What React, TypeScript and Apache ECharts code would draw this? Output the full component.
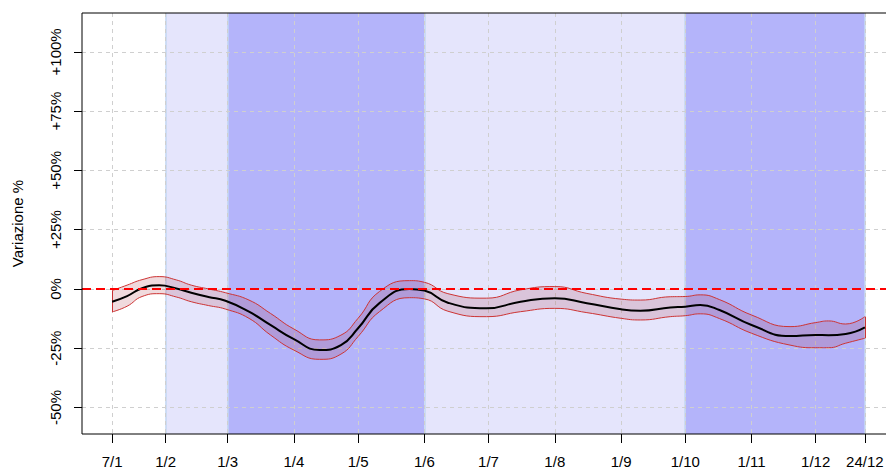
import { useEffect, useRef } from 'react';
import * as echarts from 'echarts';

// Daily-series summary for 2020: smoothed mean change (%) and its band
const dates = [
  '2020-01-07', '2020-01-14', '2020-01-21', '2020-01-29', '2020-02-06', '2020-02-13',
  '2020-02-21', '2020-02-29', '2020-03-11', '2020-03-21', '2020-04-01', '2020-04-13',
  '2020-04-23', '2020-05-01', '2020-05-11', '2020-05-25', '2020-06-01', '2020-06-12',
  '2020-06-30', '2020-07-16', '2020-08-01', '2020-08-16', '2020-09-01', '2020-09-10',
  '2020-09-24', '2020-10-01', '2020-10-08', '2020-10-17', '2020-11-01', '2020-11-19',
  '2020-12-01', '2020-12-07', '2020-12-15', '2020-12-24',
];
const meanPct = [
  -5.4, -3.0, 0.3, 1.5, 0.2, -1.6,
  -3.4, -5.0, -9.6, -15.2, -21.2, -25.8,
  -23.7, -16.6, -6.0, 0.0, -0.7, -5.8,
  -8.2, -5.4, -3.9, -6.0, -8.6, -9.2,
  -7.8, -7.5, -6.8, -8.9, -15.2, -19.9,
  -19.4, -19.5, -19.0, -16.2,
];
const lowerPct = [
  -9.7, -7.3, -3.2, -2.0, -3.4, -5.4,
  -7.0, -8.5, -12.4, -19.4, -25.8, -29.7,
  -27.5, -20.1, -9.6, -3.7, -4.2, -9.4,
  -11.7, -9.6, -8.2, -10.0, -12.4, -13.1,
  -11.7, -11.3, -10.5, -12.5, -18.7, -23.7,
  -24.8, -24.8, -22.9, -20.8,
];
const upperPct = [
  -0.7, 1.6, 3.9, 5.2, 3.8, 1.6,
  0.0, -1.6, -4.7, -10.3, -16.9, -21.5,
  -19.5, -12.4, -1.1, 3.5, 2.8, -2.0,
  -3.9, -0.4, 1.0, -1.9, -4.3, -4.7,
  -3.3, -3.2, -2.5, -4.5, -11.0, -15.9,
  -14.2, -13.5, -14.8, -11.7,
];

// Axis ticks
const tickDates = [
  '2020-01-07', '2020-02-01', '2020-03-01', '2020-04-01', '2020-05-01', '2020-06-01',
  '2020-07-01', '2020-08-01', '2020-09-01', '2020-10-01', '2020-11-01', '2020-12-01',
  '2020-12-24',
];
const tickLabels = ['7/1', '1/2', '1/3', '1/4', '1/5', '1/6', '1/7', '1/8', '1/9', '1/10', '1/11', '1/12', '24/12'];
const yTicks = [-50, -25, 0, 25, 50, 75, 100];

// Background periods
const periods = [
  { from: '2020-02-01', to: '2020-03-01', level: 'light' },
  { from: '2020-03-01', to: '2020-06-01', level: 'dark' },
  { from: '2020-06-01', to: '2020-10-01', level: 'light' },
  { from: '2020-10-01', to: '2020-12-24', level: 'dark' },
];
const periodEdges = ['2020-02-01', '2020-03-01', '2020-06-01', '2020-10-01', '2020-12-24'];

const Y_MIN = -61.2;
const Y_MAX = 116.4;

// Day of year (0 = 1 January 2020)
const dayOf = (s: string) => {
  const [y, m, d] = s.split('-').map(Number);
  return (Date.UTC(y, m - 1, d) - Date.UTC(2020, 0, 1)) / 86400000;
};

const FONT = "'Liberation Sans', Arial, sans-serif";
const BAND_EDGE = '#CC3434';
const SMOOTH = 0.5;

export default function App() {
  const ref = useRef<HTMLDivElement>(null);

  useEffect(() => {
    if (!ref.current) return;
    const chart = echarts.init(ref.current, undefined, { renderer: 'svg' });

    const days = dates.map(dayOf);
    const first = days[0];
    const last = days[days.length - 1];
    const pad = (last - first) * 0.04;
    const tickDays = tickDates.map(dayOf);
    const labelOf = new Map(tickDays.map((d, i) => [d, tickLabels[i]]));

    // value first, day second: the stack then accumulates the value column
    const lowerData = days.map((d, i) => [lowerPct[i], d]);
    const widthData = days.map((d, i) => [upperPct[i] - lowerPct[i], d]);
    const meanData = days.map((d, i) => [d, meanPct[i]]);
    const n = days.length - 1;

    chart.setOption({
      animation: false,
      backgroundColor: '#ffffff',
      textStyle: { fontFamily: FONT },
      grid: {
        left: 82,
        top: 13,
        right: -9,
        bottom: 36,
        show: true,
        borderColor: '#000',
        borderWidth: 1,
        backgroundColor: 'transparent',
        z: 6,
        outerBoundsMode: 'none',
      },
      xAxis: {
        type: 'value',
        min: first - pad,
        max: last + pad,
        z: 2,
        axisLine: { show: false, onZero: false },
        axisTick: {
          show: true,
          customValues: tickDays,
          length: 9,
          lineStyle: { color: '#000', width: 1 },
        },
        axisLabel: {
          customValues: tickDays,
          formatter: (v: number) => labelOf.get(v) ?? '',
          margin: 20,
          fontSize: 15,
          color: '#000',
          fontFamily: FONT,
        },
        splitLine: {
          show: true,
          lineStyle: { color: '#CFCFCF', width: 1, type: [4, 4] },
        },
      },
      yAxis: {
        type: 'value',
        min: Y_MIN,
        max: Y_MAX,
        z: 2,
        name: 'Variazione %',
        nameLocation: 'middle',
        nameGap: 57,
        nameTextStyle: { fontSize: 15, color: '#000', fontFamily: FONT },
        axisLine: { show: false, onZero: false },
        axisTick: {
          show: true,
          customValues: yTicks,
          length: 8,
          lineStyle: { color: '#000', width: 1 },
        },
        axisLabel: {
          customValues: yTicks,
          rotate: 90,
          margin: 19,
          fontSize: 15,
          color: '#000',
          fontFamily: FONT,
          formatter: (v: number) => (v > 0 ? `+${v}%` : `${v}%`),
        },
        splitLine: {
          show: true,
          lineStyle: { color: '#CFCFCF', width: 1, type: [4, 4] },
        },
      },
      series: [
        {
          name: 'periods',
          type: 'line',
          data: [],
          silent: true,
          markArea: {
            silent: true,
            z: 1,
            data: periods.map((p) => [
              {
                xAxis: dayOf(p.from),
                itemStyle: { color: p.level === 'dark' ? '#B4B4FA' : '#E5E5FC' },
              },
              { xAxis: dayOf(p.to) },
            ]),
          },
          markLine: {
            silent: true,
            z: 1,
            symbol: 'none',
            label: { show: false },
            lineStyle: { color: '#C3D7F2', width: 1.5, type: 'solid' },
            data: periodEdges.map((d) => ({ xAxis: dayOf(d) })),
          },
        },
        {
          name: 'lower',
          type: 'line',
          data: lowerData,
          encode: { x: 1, y: 0 },
          stack: 'band',
          stackStrategy: 'all',
          smooth: SMOOTH,
          showSymbol: false,
          symbol: 'none',
          z: 3,
          lineStyle: { color: BAND_EDGE, width: 1 },
        },
        {
          name: 'band',
          type: 'line',
          data: widthData,
          encode: { x: 1, y: 0 },
          stack: 'band',
          stackStrategy: 'all',
          smooth: SMOOTH,
          showSymbol: false,
          symbol: 'none',
          z: 3,
          lineStyle: { color: BAND_EDGE, width: 1 },
          areaStyle: { color: 'rgba(168, 34, 56, 0.24)' },
          markLine: {
            silent: true,
            symbol: 'none',
            label: { show: false },
            z: 3,
            lineStyle: { color: BAND_EDGE, width: 1, type: 'solid' },
            data: [
              [{ coord: [days[0], lowerPct[0]] }, { coord: [days[0], upperPct[0]] }],
              [{ coord: [days[n], lowerPct[n]] }, { coord: [days[n], upperPct[n]] }],
            ],
          },
        },
        {
          name: 'mean',
          type: 'line',
          data: meanData,
          smooth: SMOOTH,
          showSymbol: false,
          symbol: 'none',
          z: 4,
          lineStyle: { color: '#000', width: 2 },
          markLine: {
            silent: true,
            symbol: 'none',
            label: { show: false },
            z: 5,
            lineStyle: { color: '#FF0000', width: 2, type: [9, 5] },
            data: [{ yAxis: 0 }],
          },
        },
      ],
    });

    return () => chart.dispose();
  }, []);

  return (
    <div
      ref={ref}
      style={{ position: 'fixed', left: 0, top: 0, width: 886, height: 470, background: '#fff' }}
    />
  );
}
